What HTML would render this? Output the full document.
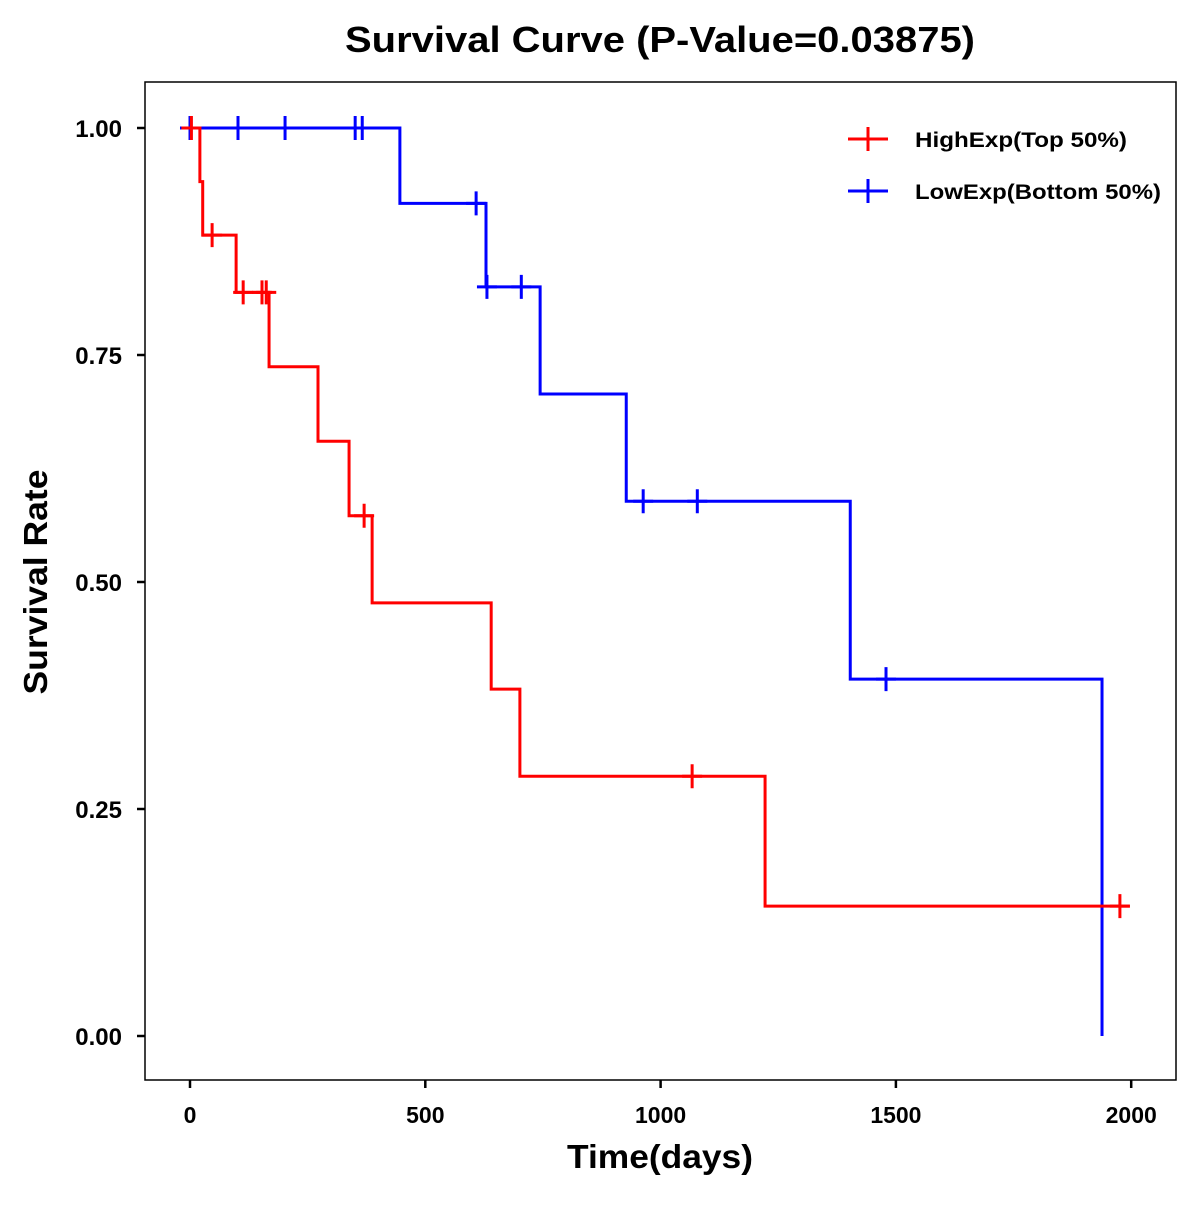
<!DOCTYPE html>
<html><head><meta charset="utf-8"><style>
body{margin:0;background:#fff;}
svg text{font-family:"Liberation Sans",Arial,sans-serif;font-weight:bold;fill:#000;}
</style></head><body>
<svg id="chart" width="1200" height="1200" viewBox="0 0 1200 1200" xmlns="http://www.w3.org/2000/svg">
<rect width="1200" height="1200" fill="#fff"/>
<text x="660" y="52" font-size="36" text-anchor="middle" textLength="630" lengthAdjust="spacingAndGlyphs">Survival Curve (P-Value=0.03875)</text>
<rect x="145" y="82" width="1031" height="998" fill="none" stroke="#000" stroke-width="1.5"/>
<g id="axes"></g>
<g id="series"></g>
<text x="660" y="1168" font-size="33" text-anchor="middle" textLength="186" lengthAdjust="spacingAndGlyphs">Time(days)</text>
<text transform="translate(47,582) rotate(-90)" font-size="33" text-anchor="middle" textLength="225" lengthAdjust="spacingAndGlyphs">Survival Rate</text>
<g>
<g><line x1="848" y1="139" x2="888" y2="139" stroke="#f00" stroke-width="3"/><line x1="868" y1="127" x2="868" y2="151" stroke="#f00" stroke-width="3"/><text x="915" y="147" font-size="21" textLength="212" lengthAdjust="spacingAndGlyphs">HighExp(Top 50%)</text></g>
<g><line x1="848" y1="191" x2="888" y2="191" stroke="#00f" stroke-width="3"/><line x1="868" y1="179" x2="868" y2="203" stroke="#00f" stroke-width="3"/><text x="915" y="199" font-size="21" textLength="246" lengthAdjust="spacingAndGlyphs">LowExp(Bottom 50%)</text></g>
</g>
</svg>
<script>
const xTicks=[0,500,1000,1500,2000];
const yTicks=[0,0.25,0.5,0.75,1];
const yTickLabels=["0.00","0.25","0.50","0.75","1.00"];
const highTimes=[21,27,98,168,272,338,387,640,701,1222];
const highSurv=[0.941,0.882,0.819,0.737,0.655,0.573,0.477,0.382,0.286,0.143];
const highEnd=1997;
const highCensor=[3,47,113,153,162,370,1067,1976];
const lowTimes=[446,629,744,927,1403,1938];
const lowSurv=[0.917,0.825,0.707,0.589,0.393,0.0];
const lowEnd=1938;
const lowCensor=[0,102,202,351,366,608,631,704,963,1078,1479];

const NS="http://www.w3.org/2000/svg";
const X=t=>190+t*0.4706;
const Y=s=>1036-s*908;
function mk(tag,attrs,parent){const e=document.createElementNS(NS,tag);for(const k in attrs)e.setAttribute(k,attrs[k]);parent.appendChild(e);return e;}
const axes=document.getElementById('axes');
xTicks.forEach(t=>{
 const l=mk('line',{x1:X(t),x2:X(t),y1:1080,y2:1088,stroke:'#000','stroke-width':2.5},axes);
 
 
 const tx=mk('text',{x:X(t),y:1123,'font-size':23,'text-anchor':'middle'},axes);tx.textContent=t;
 
 
});
yTicks.forEach((s,i)=>{
 const l=mk('line',{x1:137,x2:145,y1:Y(s),y2:Y(s),stroke:'#000','stroke-width':2.5},axes);
 
 
 const tx=mk('text',{x:122,y:Y(s)+9,'font-size':24,'text-anchor':'end'},axes);tx.textContent=yTickLabels[i];
 
 
});
const series=document.getElementById('series');
function survAt(times,surv,t){let s=1;for(let i=0;i<times.length;i++){if(times[i]<=t)s=surv[i];}return s;}
function draw(times,surv,end,censor,color,name){
 let d='M'+X(0)+','+Y(1);
 times.forEach((t,i)=>{d+=' H'+X(t)+' V'+Y(surv[i]);});
 if(end>times[times.length-1])d+=' H'+X(end);
 const p=mk('path',{d:d,fill:'none',stroke:color,'stroke-width':3},series);
 
 
 censor.forEach(t=>{
  const y=Y(survAt(times,surv,t)),x=X(t);
  const g=mk('path',{d:`M${x-10},${y} H${x+10} M${x},${y-12} V${y+12}`,stroke:color,'stroke-width':3,fill:'none'},series);
  
  
 });
}
draw(lowTimes,lowSurv,lowEnd,lowCensor,'#00f','low-exp');
draw(highTimes,highSurv,highEnd,highCensor,'#f00','high-exp');
</script>
</body></html>
